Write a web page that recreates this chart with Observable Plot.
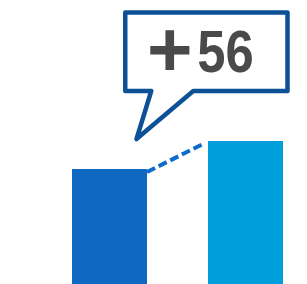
<!DOCTYPE html>
<html><head><meta charset="utf-8">
<script src="https://cdn.jsdelivr.net/npm/d3@7"></script>
<script src="https://cdn.jsdelivr.net/npm/@observablehq/plot@0.6"></script>
<style>html,body{margin:0;padding:0;background:#fff}</style>
</head><body><div id="chart"></div>
<script>
const categories = ["Before", "After"];
const values = [230, 286];
const colors = ["#0f68c2", "#009edb"];
const deltaSign = "+";
const deltaValue = "56";

const data = categories.map((c, i) => ({cat: c, value: values[i], color: colors[i]}));

function bubbleMark(index, scales, vals, dims) {
  const x = scales.x, y = scales.y, bw = x.bandwidth();
  const ns = "http://www.w3.org/2000/svg";
  const g = document.createElementNS(ns, "g");
  const x1 = x(categories[0]) + bw, y1 = y(values[0]) + 3;
  const x2 = x(categories[1]) - 3, y2 = y(values[1]) + 2;
  const dl = document.createElementNS(ns, "line");
  dl.setAttribute("x1", x1); dl.setAttribute("y1", y1);
  dl.setAttribute("x2", x2); dl.setAttribute("y2", y2);
  dl.setAttribute("stroke", "#0d6ccb");
  dl.setAttribute("stroke-width", 4);
  dl.setAttribute("stroke-dasharray", "9,4");
  g.appendChild(dl);
  const L = x(categories[0]) + bw * 0.71, R = x(categories[1]) + bw * 1.06;
  const T = 12.5, B = 91;
  const tipX = x(categories[0]) + bw * 0.86, tipY = 139;
  const tailL = L + 26, tailR = L + 68;
  const p = document.createElementNS(ns, "path");
  p.setAttribute("d", `M${L},${T}H${R}V${B}H${tailR}L${tipX},${tipY}L${tailL},${B}H${L}Z`);
  p.setAttribute("fill", "#fff");
  p.setAttribute("stroke", "#0c5196");
  p.setAttribute("stroke-width", 4.5);
  p.setAttribute("stroke-linejoin", "round");
  g.appendChild(p);
  const t1 = document.createElementNS(ns, "text");
  t1.setAttribute("x", L + 44.5);
  t1.setAttribute("y", 76);
  t1.setAttribute("text-anchor", "middle");
  t1.setAttribute("font-family", "Liberation Sans, Arial, sans-serif");
  t1.setAttribute("font-weight", "bold");
  t1.setAttribute("font-size", 78);
  t1.setAttribute("fill", "#4a4a4a");
  t1.textContent = deltaSign;
  g.appendChild(t1);
  const t2 = document.createElementNS(ns, "text");
  t2.setAttribute("transform", `translate(${L + 72},72) scale(0.86,1)`);
  t2.setAttribute("text-anchor", "start");
  t2.setAttribute("font-family", "Liberation Sans, Arial, sans-serif");
  t2.setAttribute("font-weight", "bold");
  t2.setAttribute("font-size", 59);
  t2.setAttribute("fill", "#4a4a4a");
  t2.textContent = deltaValue;
  g.appendChild(t2);
  return g;
}

const chart = Plot.plot({
  width: 307, height: 284,
  margin: 0,
  x: {domain: categories, range: [71, 283], paddingInner: 0.45, paddingOuter: 0, axis: null},
  y: {domain: [0, 568], range: [284, 0], axis: null},
  marks: [
    Plot.barY(data, {x: "cat", y: "value", fill: d => d.color}),
    bubbleMark
  ],
  color: {type: "identity"}
});
document.getElementById("chart").appendChild(chart);
</script></body></html>
